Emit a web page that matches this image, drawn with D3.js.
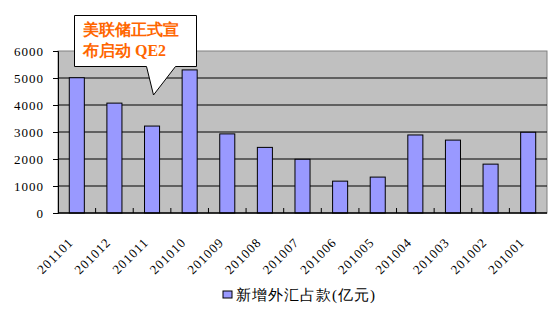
<!DOCTYPE html>
<html>
<head>
<meta charset="utf-8">
<script src="https://cdn.jsdelivr.net/npm/d3@7"></script>
<style>
  body { margin: 0; background: #fff; }
  svg text { font-family: "Liberation Serif", serif; }
</style>
</head>
<body>
<div id="chart"></div>
<script>
// data
const months = ['201101', '201012', '201011', '201010', '201009', '201008', '201007',
                '201006', '201005', '201004', '201003', '201002', '201001'];
const inflow = [5010, 4070, 3220, 5300, 2930, 2430, 1990, 1180, 1330, 2890, 2700, 1810, 2990];
const yTicks = [0, 1000, 2000, 3000, 4000, 5000, 6000];
const seriesName = '新增外汇占款(亿元)';
const noteLines = ['美联储正式宣', '布启动 QE2'];

const W = 560, H = 312;
const margin = {top: 51, right: 13, bottom: 99, left: 58};
const width = W - margin.left - margin.right;
const height = H - margin.top - margin.bottom;

const svg = d3.select('#chart').append('svg')
    .attr('width', W)
    .attr('height', H);

const g = svg.append('g')
    .attr('transform', `translate(${margin.left},${margin.top})`);

const x = d3.scaleBand()
    .domain(months)
    .range([0, width])
    .paddingInner(0.6)
    .paddingOuter(0.3);

// band boundaries for the tick marks
const step = x.step();
const x0 = x(months[0]) - x.paddingOuter() * step;

const y = d3.scaleLinear()
    .domain([0, 6000])
    .range([height, 0]);

// plot background
g.append('rect')
    .attr('width', width)
    .attr('height', height)
    .attr('fill', '#c0c0c0')
    .attr('stroke', '#808080');

// gridlines
g.selectAll('.grid')
    .data(yTicks.filter(d => d > 0 && d < 6000))
    .join('line')
    .attr('x1', 0).attr('x2', width)
    .attr('y1', d => y(d)).attr('y2', d => y(d))
    .attr('stroke', '#000');

// bars
g.selectAll('.bar')
    .data(inflow)
    .join('rect')
    .attr('x', (d, i) => x(months[i]))
    .attr('y', d => y(d))
    .attr('width', x.bandwidth())
    .attr('height', d => y(0) - y(d))
    .attr('fill', '#9999ff')
    .attr('stroke', '#000')
    .attr('stroke-width', 1);

// y axis
const yAxis = g.append('g')
    .call(d3.axisLeft(y).tickValues(yTicks).tickSize(5).tickPadding(9).tickFormat(d3.format('d')));
yAxis.select('.domain').attr('stroke', '#000');
yAxis.selectAll('text')
    .attr('font-size', 13)
    .attr('letter-spacing', 1)
    .attr('fill', '#000');

// x axis line + inner ticks at band edges
const xAxis = g.append('g').attr('transform', `translate(0,${height})`);
xAxis.append('line')
    .attr('x1', 0).attr('x2', width)
    .attr('stroke', '#000').attr('stroke-width', 1.5);
xAxis.selectAll('.tk')
    .data(d3.range(1, months.length))
    .join('line')
    .attr('x1', i => x0 + i * step).attr('x2', i => x0 + i * step)
    .attr('y1', 0).attr('y2', -5)
    .attr('stroke', '#000');

xAxis.selectAll('.lbl')
    .data(months)
    .join('text')
    .attr('transform', d => `translate(${x(d) + x.bandwidth() / 2 - 6},${27}) rotate(-45)`)
    .attr('text-anchor', 'end')
    .attr('dy', '0.35em')
    .attr('font-size', 13)
    .attr('letter-spacing', 1)
    .text(d => d);

// legend
const legend = svg.append('g').attr('transform', 'translate(223,291)');
legend.append('rect')
    .attr('width', 9).attr('height', 7)
    .attr('fill', '#9999ff').attr('stroke', '#000');
legend.append('text')
    .attr('x', 13).attr('y', 4)
    .attr('dy', '0.35em')
    .attr('font-family', '"Noto Sans CJK SC", sans-serif')
    .attr('font-size', 15)
    .attr('letter-spacing', 1)
    .text(seriesName);

// callout
const note = svg.append('g');
note.append('path')
    .attr('d', 'M74.5,15.5 H196.5 V66.5 H175.5 L153.5,95 L146.5,66.5 H74.5 Z')
    .attr('fill', '#fff')
    .attr('stroke', '#000');
note.selectAll('text')
    .data(noteLines)
    .join('text')
    .attr('x', 83)
    .attr('y', (d, i) => 35 + i * 21)
    .attr('font-family', '"Noto Sans CJK SC", sans-serif')
    .attr('font-weight', 'bold')
    .attr('font-size', 16)
    .attr('fill', '#ff6600')
    .text(d => d);
</script>
</body>
</html>
